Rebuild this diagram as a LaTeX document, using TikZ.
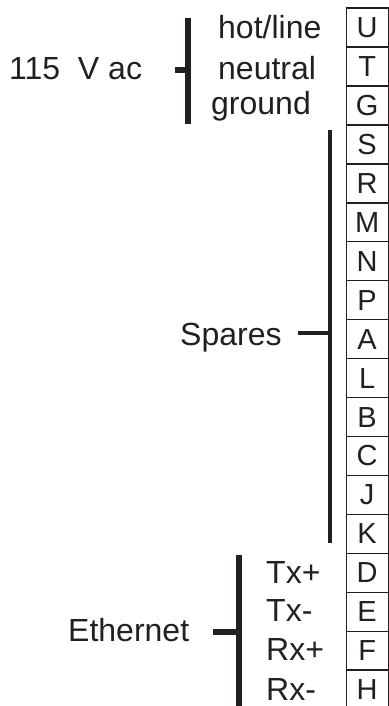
\documentclass[tikz,border=0pt]{standalone}
\usepackage{fontspec}
\setmainfont{Liberation Sans}
\definecolor{ink}{HTML}{231F20}
\begin{document}
\begin{tikzpicture}[x=1pt,y=-1pt,
  cell/.style={draw=ink, line width=1.3pt, minimum width=42pt, minimum height=38.94pt,
    inner sep=0pt, anchor=north west, text=ink, font=\fontsize{29}{29}\selectfont},
  lbl/.style={inner sep=0pt, anchor=base west, text=ink, font=\fontsize{32}{32}\selectfont},
  bar/.style={draw=ink, line width=6pt},
  thinbar/.style={draw=ink, line width=4.6pt},
]
\useasboundingbox (0,0) rectangle (388,706);
% terminal strip
\foreach \l [count=\i from 0] in {U,T,G,S,R,M,N,P,A,L,B,C,J,K,D,E,F,H}
  \node[cell] (\l) at (345.5, 7.5+\i*38.94) {\l};
% 115 V ac group
\node[lbl] (ac) at (9,79.3) {115\ \ V ac};
\node[lbl] (hot) at (218,38.3) {hot/line};
\node[lbl] (neu) at (218,79.5) {neutral};
\node[lbl] (gnd) at (211,114.5) {ground};
\coordinate (acTop) at (188,18);
\coordinate (acBot) at (188,124);
\coordinate (acMid) at (188,70);
\coordinate (acTick) at (175,70);
\draw[bar] (acTop) -- (acBot);
\draw[bar] (acTick) -- (acMid);
% Spares group
\node[lbl] (sp) at (180,345) {Spares};
\coordinate (spTop) at (330,130);
\coordinate (spBot) at (330,543);
\coordinate (spMid) at (330,333);
\coordinate (spTick) at (298,333);
\draw[thinbar] (spTop) -- (spBot);
\draw[thinbar] (spTick) -- (spMid);
% Ethernet group
\node[lbl] (eth) at (68,641.7) {Ethernet};
\node[lbl] (txp) at (266,583) {Tx+};
\node[lbl] (txm) at (266,621.7) {Tx-};
\node[lbl] (rxp) at (266,660) {Rx+};
\node[lbl] (rxm) at (266,700) {Rx-};
\coordinate (ethTop) at (238.5,555);
\coordinate (ethBot) at (238.5,710);
\coordinate (ethMid) at (238.5,632);
\coordinate (ethTick) at (213,632);
\draw[bar] (ethTop) -- (ethBot);
\draw[bar] (ethTick) -- (ethMid);
\end{tikzpicture}
\end{document}
